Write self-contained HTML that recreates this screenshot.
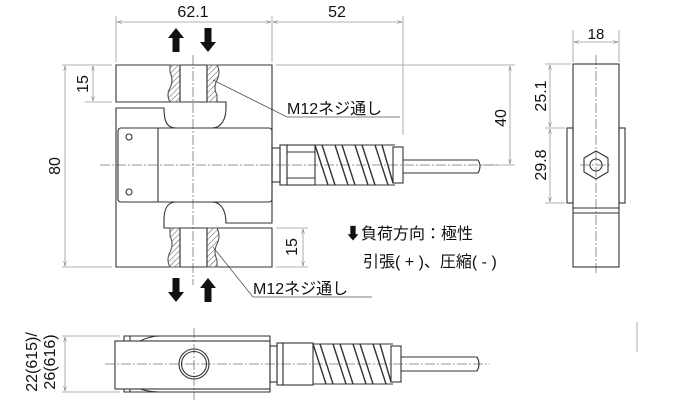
<!DOCTYPE html>
<html><head><meta charset="utf-8"><style>
html,body{margin:0;padding:0;background:#fff;width:673px;height:417px;overflow:hidden}
svg{display:block}
text{font-family:"Liberation Sans","Noto Sans CJK JP",sans-serif;fill:#111}
</style></head><body>
<svg width="673" height="417" viewBox="0 0 673 417" xmlns="http://www.w3.org/2000/svg">
<defs>
<pattern id="h" width="4" height="4" patternUnits="userSpaceOnUse" patternTransform="rotate(45)"><line x1="0" y1="0" x2="0" y2="4" stroke="#555" stroke-width="1"/></pattern>
<marker id="a" viewBox="0 0 10 10" refX="10" refY="5" markerWidth="6" markerHeight="6" orient="auto-start-reverse"><path d="M0,2 L10,5 L0,8" fill="none" stroke="#777" stroke-width="1"/></marker>
</defs>
<g stroke="#999" stroke-width="0.8" fill="none">
<line x1="116" y1="16" x2="116" y2="62"/><line x1="272" y1="16" x2="272" y2="62"/>
<line x1="403" y1="16" x2="403" y2="135"/>
<line x1="62" y1="65" x2="112" y2="65"/><line x1="62" y1="267" x2="112" y2="267"/>
<line x1="85" y1="102" x2="112" y2="102"/>
<line x1="276" y1="65" x2="515" y2="65"/><line x1="482" y1="165" x2="515" y2="165"/>
<line x1="276" y1="228" x2="308" y2="228"/><line x1="276" y1="267" x2="308" y2="267"/>
<line x1="573" y1="30" x2="573" y2="62"/><line x1="619" y1="30" x2="619" y2="62"/>
<line x1="545" y1="64" x2="571" y2="64"/><line x1="545" y1="128" x2="565" y2="128"/><line x1="545" y1="203" x2="565" y2="203"/>
<line x1="62" y1="336" x2="120" y2="336"/><line x1="62" y1="392" x2="120" y2="392"/>
<line x1="117" y1="22" x2="271" y2="22" marker-start="url(#a)" marker-end="url(#a)"/>
<line x1="273" y1="22" x2="402" y2="22" marker-start="url(#a)" marker-end="url(#a)"/>
<line x1="65" y1="66" x2="65" y2="266" marker-start="url(#a)" marker-end="url(#a)"/>
<line x1="93" y1="66" x2="93" y2="101" marker-start="url(#a)" marker-end="url(#a)"/>
<line x1="303" y1="229" x2="303" y2="266" marker-start="url(#a)" marker-end="url(#a)"/>
<line x1="510" y1="66" x2="510" y2="164" marker-start="url(#a)" marker-end="url(#a)"/>
<line x1="574" y1="42" x2="618" y2="42" marker-start="url(#a)" marker-end="url(#a)"/>
<line x1="550" y1="65" x2="550" y2="127" marker-start="url(#a)" marker-end="url(#a)"/>
<line x1="550" y1="129" x2="550" y2="202" marker-start="url(#a)" marker-end="url(#a)"/>
<line x1="65" y1="337" x2="65" y2="391" marker-start="url(#a)" marker-end="url(#a)"/>
<line x1="637" y1="322" x2="637" y2="352"/>
<polyline points="213,80 287,117 400,117" stroke="#555"/>
<polyline points="213,247 253,297 372,297" stroke="#555"/>
<g stroke="#777" stroke-dasharray="10,2,2,2">
<line x1="193" y1="55" x2="193" y2="285"/>
<line x1="100" y1="165" x2="500" y2="165"/>
<line x1="596" y1="55" x2="596" y2="275"/>
<line x1="580" y1="165" x2="612" y2="165"/>
<line x1="194" y1="328" x2="194" y2="400"/>
<line x1="105" y1="364" x2="490" y2="364"/>
</g>
</g>
<g stroke="#333" stroke-width="1.1" fill="none">
<path d="M116,102 V65 H272 V223 H226 C226,212 222,202 212,202 H176 C166,202 164,212 164,220 V228 H272 V267 H116 V108 H164 C164,120 166,128 176,128 H212 C222,128 226,118 226,108 V102 Z"/>
<rect x="118" y="128" width="154" height="74" rx="3"/>
<line x1="158" y1="128" x2="158" y2="202"/>
<circle cx="129" cy="137" r="3"/><circle cx="129" cy="192" r="3"/>
<g fill="url(#h)" stroke="#555">
<path d="M170,65 H180 V102 H170 Q166,95 170,88 Q174,80 170,72 Z"/>
<path d="M207,65 H217 Q221,72 217,80 Q213,88 217,95 V102 H207 Z"/>
<path d="M170,228 H180 V267 H170 Q166,260 170,252 Q174,244 170,236 Z"/>
<path d="M207,228 H217 Q221,236 217,244 Q213,252 217,260 V267 H207 Z"/>
</g>
<line x1="180" y1="65" x2="180" y2="102"/><line x1="207" y1="65" x2="207" y2="102"/>
<line x1="180" y1="228" x2="180" y2="267"/><line x1="207" y1="228" x2="207" y2="267"/>
<rect x="272" y="148" width="8" height="34"/>
<rect x="280" y="145" width="7" height="40"/>
<rect x="287" y="145" width="28" height="40"/>
<line x1="287" y1="152" x2="315" y2="152"/><line x1="287" y1="178" x2="315" y2="178"/>
<g stroke-width="1.4">
<path d="M315,145 L328,185 M322,145 L335,185 M335,145 L348,185 M342,145 L355,185 M355,145 L368,185 M362,145 L375,185 M375,145 L388,185 M382,145 L393,183"/>
</g>
<line x1="315" y1="145" x2="395" y2="145"/><line x1="315" y1="185" x2="395" y2="185"/>
<rect x="393" y="147" width="10" height="36"/>
<path d="M403,160 H478 Q482,166 478,173 H403"/>
<rect x="573" y="64" width="46" height="203"/>
<rect x="567" y="128" width="6" height="75"/><rect x="619" y="128" width="6" height="75"/>
<line x1="573" y1="208" x2="619" y2="208"/><line x1="573" y1="213" x2="619" y2="213"/>
<polygon points="596,151 608,158 608,172 596,179 584,172 584,158"/>
<circle cx="596" cy="165" r="6"/>
<rect x="115" y="341" width="155" height="48"/>
<path d="M124,341 V336 H130 V341 M130,336 H270 V341 M140,341 Q150,336 160,336"/>
<path d="M124,389 V392 H130 V389 M130,392 H270 V389 M140,389 Q150,392 160,392"/>
<circle cx="194" cy="364" r="15"/><circle cx="194" cy="364" r="12.5"/>
<rect x="270" y="346" width="7" height="36"/><rect x="277" y="343" width="6" height="42"/>
<rect x="283" y="343" width="30" height="42"/>
<g stroke-width="1.4">
<path d="M313,344 L326,384 M320,344 L333,384 M333,344 L346,384 M340,344 L353,384 M353,344 L366,384 M360,344 L373,384 M373,344 L386,384 M380,344 L391,382"/>
</g>
<line x1="313" y1="344" x2="393" y2="344"/><line x1="313" y1="384" x2="393" y2="384"/>
<rect x="391" y="346" width="10" height="36"/>
<path d="M401,357 H477 Q481,364 477,371 H401"/>
</g>
<g fill="#111">
<path d="M176,28 L184,38 H179.5 V52 H172.5 V38 H168 Z"/>
<path d="M208,52 L216,42 H211.5 V28 H204.5 V42 H200 Z"/>
<path d="M176,302 L184,292 H179.5 V278 H172.5 V292 H168 Z"/>
<path d="M208,278 L216,288 H211.5 V302 H204.5 V288 H200 Z"/>
</g>
<g font-size="16">
<text x="193" y="17" text-anchor="middle">62.1</text>
<text x="337" y="17" text-anchor="middle">52</text>
<text x="596" y="39" text-anchor="middle" font-size="15">18</text>
<text transform="translate(60,166) rotate(-90)" text-anchor="middle">80</text>
<text transform="translate(88,84) rotate(-90)" text-anchor="middle">15</text>
<text transform="translate(297,247) rotate(-90)" text-anchor="middle">15</text>
<text transform="translate(506,118) rotate(-90)" text-anchor="middle">40</text>
<text transform="translate(546,96) rotate(-90)" text-anchor="middle">25.1</text>
<text transform="translate(546,165) rotate(-90)" text-anchor="middle">29.8</text>
<text transform="translate(37,362) rotate(-90)" text-anchor="middle">22(615)/</text>
<text transform="translate(55,362) rotate(-90)" text-anchor="middle">26(616)</text>
<text x="287" y="114">M12ネジ通し</text>
<text x="253" y="294">M12ネジ通し</text>
<text x="345" y="239">⬇負荷方向：極性</text>
<text x="363" y="267">引張( + )、圧縮( - )</text>
</g>
</svg>
</body></html>
